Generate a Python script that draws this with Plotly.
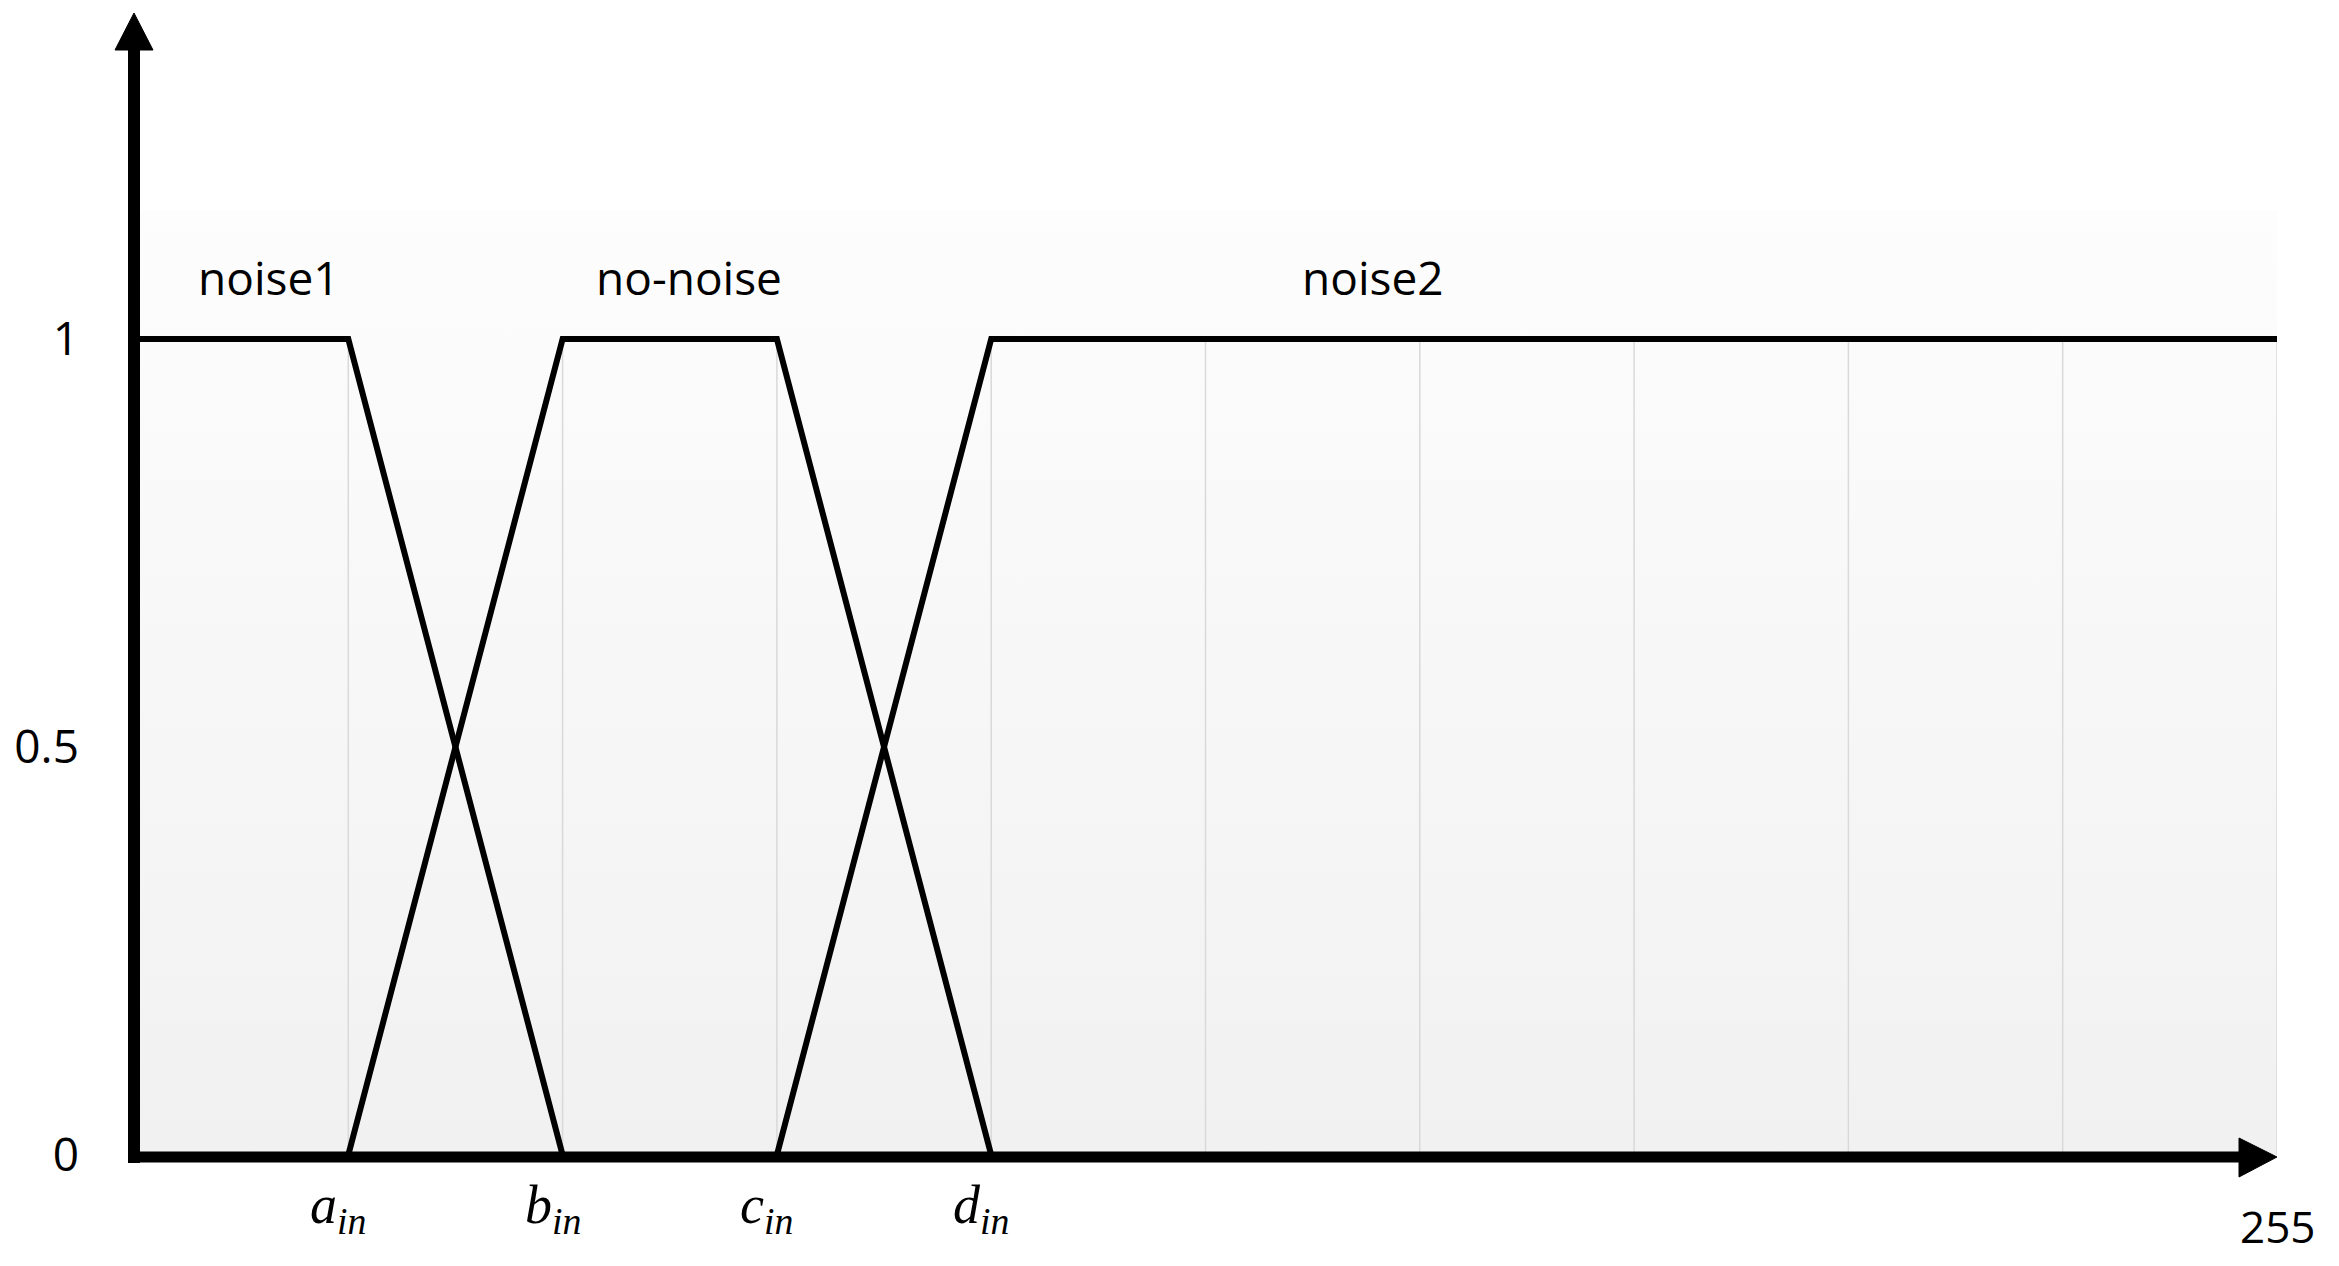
import plotly.graph_objects as go

# ---- data ----
noise1_x = [0, 1, 2]
noise1_y = [1, 1, 0]
nonoise_x = [1, 2, 3, 4]
nonoise_y = [0, 1, 1, 0]
noise2_x = [3, 4, 10]
noise2_y = [0, 1, 1]

set_names = ["noise1", "no-noise", "noise2"]
x_tick_vals = [1, 2, 3, 4]
x_tick_letters = ["a", "b", "c", "d"]
x_end_val = 10
x_end_label = "255"
y_tick_vals = [0, 0.5, 1]
y_tick_text = ["0", "0.5", "1"]
grid_x = [1, 2, 3, 4, 5, 6, 7, 8, 9, 10]

# ---- layout constants ----
W, H = 2339, 1266
OFF = 8  # page body margin
L, R, T, B = 134 - OFF, 62 + OFF, 210 - OFF, 111 + OFF
YTOP = 1.158
SANS = "Open Sans"
SERIF = "Liberation Serif"

fig = go.Figure()

# gradient background
fig.add_trace(go.Scatter(
    x=[0, x_end_val, x_end_val, 0, 0], y=[0, 0, YTOP, YTOP, 0],
    mode="lines", line=dict(width=0), fill="toself",
    fillgradient=dict(type="vertical", start=0, stop=YTOP,
                      colorscale=[[0, "#f1f1f1"], [1, "#fdfdfd"]]),
    hoverinfo="skip", showlegend=False))

# vertical gridlines (0..1)
gx, gy = [], []
for g in grid_x:
    gx += [g, g, None]
    gy += [0, 1, None]
fig.add_trace(go.Scatter(x=gx, y=gy, mode="lines",
                         line=dict(color="#d9d9d9", width=1.5),
                         hoverinfo="skip", showlegend=False))

for xs, ys, nm in [(noise1_x, noise1_y, set_names[0]),
                   (nonoise_x, nonoise_y, set_names[1]),
                   (noise2_x, noise2_y, set_names[2])]:
    fig.add_trace(go.Scatter(x=xs, y=ys, mode="lines", name=nm,
                             line=dict(color="black", width=6),
                             showlegend=False))

# set labels
label_pos = [(0.63, 1.076), (2.59, 1.076), (5.78, 1.076)]
for nm, (lx, ly) in zip(set_names, label_pos):
    fig.add_annotation(x=lx, y=ly, text=nm, showarrow=False,
                       font=dict(family=SANS, size=46, color="black"),
                       xanchor="center", yanchor="middle")

# x labels
for v, letter in zip(x_tick_vals, x_tick_letters):
    fig.add_annotation(
        x=v, y=0, text=f"<i>{letter}</i><sub><i>in</i></sub>",
        showarrow=False, xanchor="center", yanchor="middle",
        xshift=-10, yshift=-53,
        font=dict(family=SERIF, size=54, color="black"))
fig.add_annotation(x=x_end_val, y=0, text=x_end_label, showarrow=False,
                   xanchor="center", yanchor="middle", yshift=-71,
                   font=dict(family=SANS, size=44, color="black"))

# axis arrows (paper coords); inputs are target page pixels
pw, ph = W - L - R, H - T - B
def px(xp):
    return (xp - OFF - L) / pw
def py(yp):
    return (H - B - (yp - OFF)) / ph

fig.add_shape(type="line", xref="paper", yref="paper",
              x0=px(134), x1=px(134), y0=py(1163), y1=py(48),
              line=dict(color="black", width=12), layer="above")
fig.add_shape(type="path", xref="paper", yref="paper",
              path=f"M {px(115)},{py(50)} L {px(153)},{py(50)} L {px(134)},{py(13)} Z",
              fillcolor="black", line=dict(color="black", width=1), layer="above")
fig.add_shape(type="line", xref="paper", yref="paper",
              x0=px(128), x1=px(2242), y0=py(1157), y1=py(1157),
              line=dict(color="black", width=11), layer="above")
fig.add_shape(type="path", xref="paper", yref="paper",
              path=f"M {px(2239)},{py(1138)} L {px(2239)},{py(1177)} L {px(2277)},{py(1157)} Z",
              fillcolor="black", line=dict(color="black", width=1), layer="above")

fig.update_layout(
    width=W, height=H,
    margin=dict(l=L, r=R, t=T, b=B, pad=0, autoexpand=False),
    paper_bgcolor="white", plot_bgcolor="white",
    showlegend=False,
    xaxis=dict(range=[0, x_end_val], showgrid=False, zeroline=False,
               showline=False, showticklabels=False, ticks="",
               automargin=False),
    yaxis=dict(range=[0, YTOP], showgrid=False, zeroline=False,
               showline=False, tickvals=y_tick_vals, ticktext=y_tick_text,
               ticks="", ticklabelstandoff=54, automargin=False,
               tickfont=dict(family=SANS, size=46, color="black")),
)

fig.write_html("out.html")
